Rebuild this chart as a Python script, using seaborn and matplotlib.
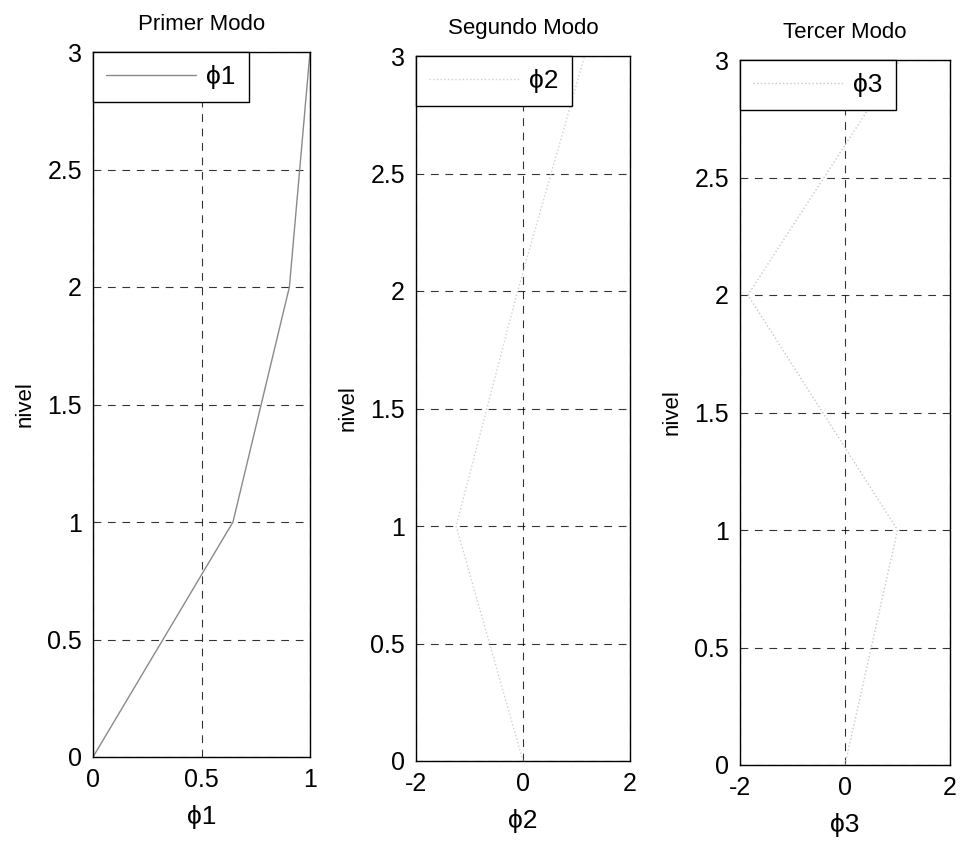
import matplotlib
matplotlib.use("Agg")
import matplotlib.pyplot as plt
import seaborn as sns
import pandas as pd

sns.set_theme(style="white")
plt.rcParams['font.family'] = ['Liberation Sans', 'DejaVu Sans']
plt.rcParams['text.color'] = 'black'
plt.rcParams['axes.labelcolor'] = 'black'

nivel = [0, 1, 2, 3]
phi1 = [0.0, 0.645, 0.905, 1.0]
phi2 = [0.0, -1.25, -0.1, 1.15]
phi3 = [0.0, 1.0, -1.85, 1.05]

titles = ["Primer Modo", "Segundo Modo", "Tercer Modo"]
xlabels = ["ϕ1", "ϕ2", "ϕ3"]
xlims = [(0, 1), (-2, 2), (-2, 2)]
xticks = [[0, 0.5, 1], [-2, 0, 2], [-2, 0, 2]]
xticklabels = [["0", "0.5", "1"], ["-2", "0", "2"], ["-2", "0", "2"]]
yticks = [0, 0.5, 1, 1.5, 2, 2.5, 3]
yticklabels = ["0", "0.5", "1", "1.5", "2", "2.5", "3"]
series = [phi1, phi2, phi3]
colors = ["#8a8a8a", "#d0d0d0", "#c8c8c8"]
styles = ["-", ":", ":"]

fig = plt.figure(figsize=(9.6, 8.42), dpi=100)
W, H = 960, 842
boxes = [(93, 52, 310, 757), (416, 56, 630, 761), (740, 60, 950, 765)]
for i, (l, t, r, b) in enumerate(boxes):
    ax = fig.add_axes([l / W, 1 - b / H, (r - l) / W, (b - t) / H])
    df = pd.DataFrame({"x": series[i], "nivel": nivel})
    sns.lineplot(data=df, x="x", y="nivel", sort=False, orient="y", ax=ax,
                 color=colors[i], linestyle=styles[i], linewidth=1.0,
                 label=xlabels[i])
    ax.set_xlim(*xlims[i])
    ax.set_ylim(0, 3)
    ax.set_xticks(xticks[i])
    ax.set_xticklabels(xticklabels[i])
    ax.set_yticks(yticks)
    ax.set_yticklabels(yticklabels)
    ax.grid(True, color="black", linestyle=(0, (7, 6)), linewidth=0.8, alpha=0.8)
    ax.tick_params(axis="both", labelsize=18, direction="in", length=0, pad=8, colors="black")
    for s in ax.spines.values():
        s.set_color("black")
        s.set_linewidth(1.0)
    ax.set_title(titles[i], fontsize=16, pad=16, color="black")
    ax.set_xlabel(xlabels[i], fontsize=19, labelpad=9)
    ax.set_ylabel("nivel", fontsize=16, labelpad=8)
    leg = ax.legend(loc="upper left", borderaxespad=0, fancybox=False,
                    edgecolor="black", framealpha=1, fontsize=19,
                    handlelength=3.4, borderpad=0.5, handletextpad=0.4,
                    markerfirst=True)
    leg.get_frame().set_linewidth(1.0)

fig.savefig("out.png", dpi=100, facecolor="white")
